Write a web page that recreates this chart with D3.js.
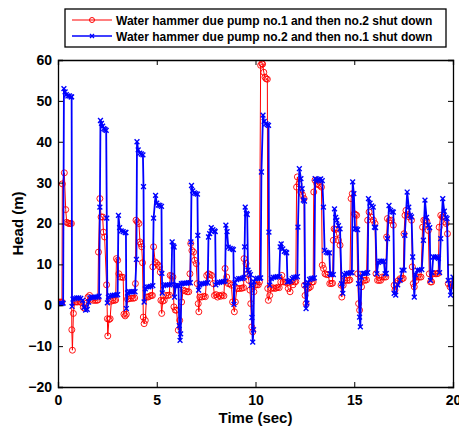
<!DOCTYPE html>
<html><head><meta charset="utf-8">
<script src="https://cdn.jsdelivr.net/npm/d3@7"></script>
<style>body{margin:0;background:#fff}svg{display:block}text{font-family:"Liberation Sans",Arial,sans-serif;font-weight:bold}</style>
</head><body><svg id="c" width="459" height="427"></svg>
<script>
// [time (s), head (m)]
const redSeries = [[0,0.8],[0.1,0.8],[0.2,0.8],[0.22,29.7],[0.32,32.4],[0.39,23.4],[0.44,20.3],[0.5,20.1],[0.56,20],[0.62,20],[0.68,20],[0.7,-6],[0.73,-11],[0.78,-2],[0.84,0.8],[0.92,0.8],[1,0.8],[1.1,0.9],[1.2,0.6],[1.28,-0.5],[1.36,-0.8],[1.44,0.5],[1.52,2],[1.6,2.4],[1.68,1.5],[1.78,1.2],[1.88,1.2],[1.96,1.2],[2.02,1.3],[2.05,13],[2.12,26.1],[2.18,21.6],[2.26,21.6],[2.3,17.9],[2.36,16.7],[2.46,5],[2.5,-3.3],[2.52,-7.5],[2.58,-3.5],[2.64,-3.3],[2.7,1],[2.78,1.2],[2.86,1.2],[2.92,1.3],[2.96,11.4],[3.02,11],[3.08,7.7],[3.14,6.9],[3.22,6.9],[3.3,6.8],[3.34,-2.2],[3.4,-2.6],[3.46,-2.2],[3.52,1.5],[3.6,1.6],[3.7,1.7],[3.8,1.7],[3.88,1.8],[3.92,5.3],[3.95,20.8],[4.02,20.4],[4.1,20],[4.15,15.5],[4.2,15],[4.24,14.3],[4.28,10.4],[4.32,-2.9],[4.36,-4.5],[4.42,-3.7],[4.48,2],[4.56,2],[4.64,2.2],[4.72,2.4],[4.78,2.4],[4.8,9.4],[4.84,14.3],[4.92,10.6],[5,10.2],[5.08,9.8],[5.14,9.4],[5.18,8.1],[5.21,1.2],[5.25,-2],[5.3,1],[5.38,1.2],[5.46,2.4],[5.56,2.4],[5.64,2.5],[5.68,7.3],[5.76,7.2],[5.82,6.9],[5.87,-0.4],[5.94,-1.2],[6,-1.2],[6.09,-6.1],[6.16,-3.7],[6.26,0.8],[6.34,3.7],[6.44,3.5],[6.54,3.3],[6.62,3.3],[6.68,7.7],[6.72,15.1],[6.78,13.4],[6.86,13],[6.92,11],[7,10.2],[7.05,5.3],[7.1,0.4],[7.13,-1.6],[7.18,2],[7.28,2],[7.38,2.2],[7.46,2.1],[7.53,7.3],[7.62,7.7],[7.7,7.5],[7.78,7.3],[7.86,5.3],[7.92,2.4],[8,2.6],[8.08,2],[8.16,2.4],[8.24,2.2],[8.32,2.5],[8.4,2.3],[8.46,9],[8.54,6.9],[8.62,5.3],[8.7,5.3],[8.78,4.9],[8.84,0.8],[8.93,-1.6],[8.98,0.8],[9.06,4.1],[9.14,4.1],[9.24,4.1],[9.32,4.2],[9.4,4.3],[9.42,11.4],[9.52,10.2],[9.6,7.7],[9.66,6.1],[9.72,3.7],[9.76,0.4],[9.81,-5.3],[9.86,-6.5],[9.92,3.3],[9.98,4.9],[10.06,5],[10.14,5],[10.2,5.7],[10.26,58.7],[10.32,59.1],[10.36,59],[10.42,57],[10.48,55.8],[10.54,55.4],[10.6,55.3],[10.62,4.1],[10.65,1.2],[10.72,2.4],[10.8,4.1],[10.88,4.3],[10.96,4.1],[11.04,4.2],[11.12,4.4],[11.2,4.3],[11.28,5.7],[11.33,7.3],[11.4,5.7],[11.5,5.7],[11.58,5.5],[11.66,4.1],[11.75,3.3],[11.82,5.7],[11.9,5],[11.98,5.7],[12.04,5.8],[12.08,28.9],[12.12,31.4],[12.2,29.7],[12.29,27.7],[12.38,27],[12.46,26.1],[12.48,4.9],[12.51,2.4],[12.56,0.4],[12.62,4.1],[12.7,4.2],[12.78,4.5],[12.86,5.7],[12.92,5.7],[12.95,27.7],[13.01,30.6],[13.1,29.7],[13.18,29.5],[13.26,29.3],[13.34,28.9],[13.38,9.8],[13.44,9],[13.52,7.7],[13.6,7.5],[13.68,7.5],[13.76,5.3],[13.84,5.3],[13.9,5.4],[13.94,15.9],[13.98,18.7],[14.04,18.5],[14.1,17.5],[14.2,15.9],[14.28,14.7],[14.33,4.9],[14.37,2],[14.44,4.9],[14.52,6.1],[14.62,6.1],[14.72,6.1],[14.78,6.2],[14.84,26.1],[14.9,27.3],[15,22.4],[15.06,22.2],[15.12,22],[15.17,7.7],[15.22,0.4],[15.27,-1.2],[15.37,4.5],[15.46,6.1],[15.54,6.1],[15.62,6.2],[15.68,20.8],[15.75,22.8],[15.85,21.6],[15.97,20.8],[16.05,20],[16.1,7.7],[16.18,6.1],[16.26,6.1],[16.34,6.1],[16.42,6.9],[16.52,6.9],[16.6,6.9],[16.64,16.7],[16.68,21.2],[16.78,20.8],[16.88,20.8],[16.98,19.6],[17.02,4.9],[17.06,3.7],[17.14,5.3],[17.22,6],[17.32,6.5],[17.42,6.5],[17.48,6.6],[17.52,17.5],[17.57,22],[17.62,23.2],[17.7,22.2],[17.79,21.6],[17.9,20.8],[17.94,9.4],[17.99,5.3],[18.04,4.5],[18.12,6],[18.2,6.9],[18.3,6.9],[18.38,6.9],[18.46,19.1],[18.52,20.8],[18.6,20.8],[18.67,20.5],[18.75,18.3],[18.8,7.7],[18.86,5.7],[18.92,5.7],[19,7.7],[19.1,7.7],[19.18,7.7],[19.25,7.8],[19.3,19.1],[19.38,22],[19.46,21.6],[19.56,20.5],[19.65,20],[19.72,17.5],[19.76,5.3],[19.85,4.5],[19.92,5],[20,5.3]];

const blueSeries = [[0,0.4],[0.1,0.4],[0.2,0.4],[0.26,0.5],[0.3,53],[0.36,52.2],[0.42,51.5],[0.5,51.2],[0.58,51.2],[0.66,51],[0.69,51],[0.71,-0.3],[0.76,1.5],[0.85,1.7],[0.95,1.8],[1.05,1.8],[1.15,1.7],[1.25,1.2],[1.32,-0.5],[1.4,-1.2],[1.48,-1],[1.55,0.8],[1.62,1.8],[1.72,2],[1.82,2],[1.92,2],[2.02,2],[2.08,2.2],[2.12,24],[2.15,45.2],[2.2,44.5],[2.26,43.8],[2.32,43.2],[2.38,43],[2.44,42.8],[2.47,21.3],[2.5,0.6],[2.55,2],[2.65,2.3],[2.75,2.4],[2.85,2.5],[2.95,2.5],[3.02,2.6],[3.06,22],[3.12,19],[3.2,18.2],[3.3,18],[3.4,17.8],[3.44,17.8],[3.46,-0.8],[3.52,3],[3.6,3.3],[3.7,3.3],[3.8,3.3],[3.9,3.3],[3.97,11.2],[4,40],[4.06,38],[4.14,37.2],[4.22,37],[4.3,36.8],[4.33,29],[4.36,0.8],[4.42,4],[4.5,4.5],[4.6,4.5],[4.7,4.6],[4.8,4.8],[4.84,21.3],[4.94,26.9],[5,25],[5.08,24.5],[5.16,24.4],[5.24,24.2],[5.26,7.8],[5.28,3],[5.35,4.8],[5.45,5],[5.55,5],[5.65,5],[5.74,5.1],[5.78,15.5],[5.84,14.5],[5.88,14.2],[5.9,2],[5.96,4.8],[6.04,4.9],[6.1,4.8],[6.14,-5],[6.18,-8.6],[6.21,-7],[6.25,5.3],[6.33,5.4],[6.42,5.4],[6.52,5.4],[6.62,5.5],[6.7,5.5],[6.73,15.5],[6.76,29.3],[6.82,28],[6.9,27.5],[6.98,27.3],[7.06,27.2],[7.08,17.1],[7.12,3.7],[7.18,5],[7.28,5.3],[7.38,5.3],[7.48,5.4],[7.58,5.5],[7.62,16.7],[7.68,17.5],[7.76,19],[7.84,18.5],[7.92,18.2],[7.96,18],[7.99,5],[8.08,5.5],[8.18,5.6],[8.28,5.7],[8.38,5.8],[8.46,5.9],[8.5,19.6],[8.56,18],[8.62,14.2],[8.72,13.9],[8.82,13.8],[8.88,13.6],[8.91,0.2],[8.96,5.5],[9.05,6.3],[9.15,6.5],[9.25,6.5],[9.35,6.6],[9.42,6.8],[9.45,14.3],[9.48,24],[9.54,22.5],[9.58,22.2],[9.62,8.6],[9.68,8],[9.74,7.5],[9.78,4.9],[9.82,-3],[9.86,-9],[9.9,-6],[9.92,5.7],[10,6.5],[10.1,6.6],[10.2,6.6],[10.26,6.7],[10.3,32.6],[10.38,46.5],[10.44,45],[10.52,44.4],[10.6,44.2],[10.66,44],[10.68,17.9],[10.72,4.9],[10.8,6.5],[10.9,6.8],[11,6.9],[11.1,7],[11.2,7],[11.25,14.3],[11.3,15],[11.38,13.8],[11.46,13.2],[11.54,13],[11.58,12.8],[11.62,5.7],[11.7,5.8],[11.78,6],[11.86,6.5],[11.94,6.8],[12.04,6.9],[12.12,7],[12.15,19.1],[12.22,33.4],[12.3,31],[12.36,28.5],[12.42,25.7],[12.48,25.5],[12.51,4.9],[12.56,-0.8],[12.6,0.5],[12.66,5.5],[12.74,6.3],[12.82,6.5],[12.9,6.6],[12.98,6.7],[13.02,31],[13.08,30.4],[13.15,30.6],[13.22,30.8],[13.3,30.9],[13.38,30.5],[13.44,24],[13.5,13.4],[13.58,13],[13.66,12.8],[13.74,12.8],[13.78,7.7],[13.85,7.5],[13.94,7.5],[14,23.6],[14.06,21.5],[14.12,20.8],[14.2,19.5],[14.28,18.7],[14.36,5.3],[14.42,2.9],[14.5,7.5],[14.6,7.8],[14.7,7.8],[14.8,7.9],[14.88,8],[14.92,30.2],[14.98,27.3],[15.04,18.7],[15.1,18.7],[15.17,18.5],[15.22,5.3],[15.27,-2.9],[15.31,-5.3],[15.36,6.9],[15.44,7.8],[15.52,7.8],[15.6,7.8],[15.68,8],[15.72,26.1],[15.8,25],[15.88,24.3],[15.96,24],[16.02,19.1],[16.08,19],[16.14,7.7],[16.22,10.5],[16.3,10.8],[16.4,10.8],[16.5,10.7],[16.56,7.7],[16.62,7.8],[16.68,16.3],[16.76,24.4],[16.84,23.2],[16.92,22.9],[16.98,22.8],[17.02,2.9],[17.1,2.5],[17.2,5],[17.32,6.1],[17.42,8.6],[17.52,8.6],[17.56,17.1],[17.68,27.7],[17.76,24],[17.84,22],[17.9,21.6],[17.96,11.8],[18.04,2],[18.1,7.5],[18.2,8.6],[18.3,8.6],[18.42,8.7],[18.5,15.9],[18.58,25.7],[18.66,21.5],[18.75,19.6],[18.82,19],[18.86,6.1],[18.94,8],[19,11.8],[19.1,11.8],[19.2,11.8],[19.26,11.5],[19.32,8],[19.38,16.3],[19.48,26.1],[19.56,23],[19.64,21.5],[19.7,21.2],[19.76,6.1],[19.88,2.5],[20,6.9]];

const xTicks = [0, 5, 10, 15, 20];
const yTicks = [-20, -10, 0, 10, 20, 30, 40, 50, 60];
const seriesNames = ["Water hammer due pump no.1 and then no.2 shut down", "Water hammer due pump no.2 and then no.1 shut down"];
const xLabel = "Time (sec)";
const yLabel = "Head (m)";

const svg = d3.select("#c");
const L = 58, R = 453, T = 60, B = 387;
const x = d3.scaleLinear().domain([0, 20]).range([L, R]);
const y = d3.scaleLinear().domain([-20, 60]).range([B, T]);

svg.append("clipPath").attr("id", "clip").append("rect")
  .attr("x", L).attr("y", T - 4).attr("width", R - L).attr("height", B - T + 4);

const line = d3.line().x(d => x(d[0])).y(d => y(d[1]));
const g = svg.append("g").attr("clip-path", "url(#clip)");
const crossPath = "M-2.4,-2.4L2.4,2.4M-2.4,2.4L2.4,-2.4";

// red series
g.append("path").datum(redSeries).attr("d", line).attr("fill", "none")
  .attr("stroke", "#ff0000").attr("stroke-width", 1);
g.selectAll("circle.r").data(redSeries).enter().append("circle")
  .attr("cx", d => x(d[0])).attr("cy", d => y(d[1])).attr("r", 3)
  .attr("fill", "none").attr("stroke", "#ff0000").attr("stroke-width", 0.9);

// blue series
g.append("path").datum(blueSeries).attr("d", line).attr("fill", "none")
  .attr("stroke", "#0000ff").attr("stroke-width", 1.8);
g.selectAll("path.b").data(blueSeries).enter().append("path")
  .attr("transform", d => `translate(${x(d[0])},${y(d[1])})`)
  .attr("d", crossPath).attr("stroke", "#0000ff").attr("stroke-width", 1.4).attr("fill", "none");

// axes (MATLAB style: inward ticks, closed box)
const ax = svg.append("g").attr("font-size", 14);
const xb = d3.axisBottom(x).tickValues(xTicks).tickSize(-5).tickPadding(8).tickFormat(d3.format("d"));
const yl = d3.axisLeft(y).tickValues(yTicks).tickSize(-5).tickPadding(6).tickFormat(d3.format("d"));
const xt = d3.axisTop(x).tickValues(xTicks).tickSize(-5).tickFormat("");
const yr = d3.axisRight(y).tickValues(yTicks).tickSize(-5).tickFormat("");
[[xb, `translate(0,${B})`], [yl, `translate(${L},0)`], [xt, `translate(0,${T})`], [yr, `translate(${R},0)`]].forEach(([a, tr]) => {
  const gg = ax.append("g").attr("transform", tr).call(a);
  gg.select(".domain").attr("stroke", "#000").attr("stroke-width", 1.3);
  gg.selectAll(".tick line").attr("stroke", "#000").attr("stroke-width", 1);
  gg.selectAll("text").attr("fill", "#000").attr("font-size", 14).attr("font-weight", "bold")
    .attr("font-family", "Liberation Sans, Arial, sans-serif");
});

svg.append("text").attr("x", (L + R) / 2).attr("y", 423).attr("text-anchor", "middle")
  .attr("font-size", 15).text(xLabel);
svg.append("text").attr("transform", `translate(23,${(T + B) / 2}) rotate(-90)`)
  .attr("text-anchor", "middle").attr("font-size", 15).text(yLabel);

// legend
const lg = svg.append("g");
lg.append("rect").attr("x", 65).attr("y", 9).attr("width", 381).attr("height", 38)
  .attr("fill", "#fff").attr("stroke", "#000").attr("stroke-width", 1.3);
const legendRows = [
  {name: seriesNames[0], color: "#ff0000", mark: "circle", yy: 20},
  {name: seriesNames[1], color: "#0000ff", mark: "cross", yy: 36}
];
legendRows.forEach(r => {
  lg.append("line").attr("x1", 72).attr("x2", 112).attr("y1", r.yy).attr("y2", r.yy)
    .attr("stroke", r.color).attr("stroke-width", r.mark === "cross" ? 1.6 : 1.2);
  if (r.mark === "circle") {
    lg.append("circle").attr("cx", 92).attr("cy", r.yy).attr("r", 2.5)
      .attr("fill", "none").attr("stroke", r.color).attr("stroke-width", 1);
  } else {
    lg.append("path").attr("transform", `translate(92,${r.yy})`).attr("d", "M-2,-2L2,2M-2,2L2,-2")
      .attr("stroke", r.color).attr("stroke-width", 1.3);
  }
  lg.append("text").attr("x", 116).attr("y", r.yy + 4.5).attr("font-size", 12).text(r.name);
});
</script>
</body></html>
